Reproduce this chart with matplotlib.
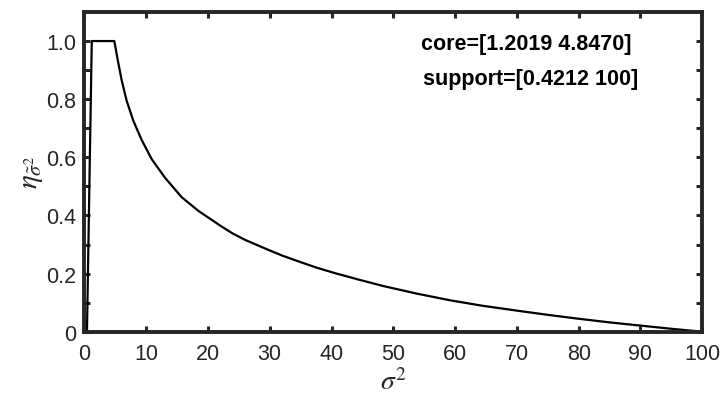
import matplotlib
matplotlib.use("Agg")
import matplotlib.pyplot as plt

plt.rcParams['font.family'] = ['Liberation Sans', 'DejaVu Sans']
plt.rcParams['mathtext.fontset'] = 'stix'

# Membership function of the fuzzy variance: rising edge, core plateau, decaying tail
core = [1.2019, 4.8470]
support = [0.4212, 100]

sigma2 = [0.4212, 1.2019, 4.8470, 5.49, 6.03, 6.84, 7.92, 9.27, 10.89,
          13.04, 15.74, 18.43, 22.2, 24.0, 26.0, 29.5, 32.0, 34.9, 37.5,
          40.3, 44.6, 48.4, 53.8, 59.2, 64.5, 70.5, 75.0, 79.8, 85.0,
          90.0, 95.0, 100.0]
eta = [0.0, 1.0, 1.0, 0.925, 0.866, 0.795, 0.726, 0.660, 0.594,
       0.530, 0.463, 0.416, 0.362, 0.338, 0.316, 0.284, 0.262, 0.240, 0.221,
       0.203, 0.178, 0.157, 0.131, 0.108, 0.089, 0.071, 0.058, 0.045, 0.032,
       0.021, 0.010, 0.0]

xticks = [0, 10, 20, 30, 40, 50, 60, 70, 80, 90, 100]
yticks = [0, 0.1, 0.2, 0.3, 0.4, 0.5, 0.6, 0.7, 0.8, 0.9, 1.0]
ytick_labels = ['0', '', '0.2', '', '0.4', '', '0.6', '', '0.8', '', '1.0']

dark = '#262626'

fig = plt.figure(figsize=(7.21, 4.02), dpi=100)
ax = fig.add_axes([0.117, 0.1724, 0.857, 0.7953])

ax.plot(sigma2, eta, color='black', lw=1.6, solid_joinstyle='round')

ax.set_xlim(0, 100)
ax.set_ylim(0, 1.1)
ax.set_xticks(xticks)
ax.set_xticklabels([str(t) for t in xticks])
ax.set_yticks(yticks)
ax.set_yticklabels(ytick_labels)

ax.tick_params(direction='in', length=4, width=2.2, colors=dark,
               labelsize=15.5, top=True, right=True)
ax.tick_params(axis='x', pad=8)
ax.tick_params(axis='y', pad=6)
for s in ax.spines.values():
    s.set_linewidth(2.8)
    s.set_color(dark)

ax.set_xlabel(r'$\sigma^2$', fontsize=20, color=dark, labelpad=3)
ax.set_ylabel(r'$\eta_{\tilde{\sigma}^2}$', fontsize=21, color=dark, labelpad=0)

ax.text(0.545, 0.901, 'core=[%.4f %.4f]' % (core[0], core[1]),
        transform=ax.transAxes, fontsize=15.5, fontweight='bold',
        color='black', ha='left', va='center')
ax.text(0.548, 0.791, 'support=[%.4f %d]' % (support[0], support[1]),
        transform=ax.transAxes, fontsize=15.5, fontweight='bold',
        color='black', ha='left', va='center')

fig.savefig('out.png', dpi=100)
